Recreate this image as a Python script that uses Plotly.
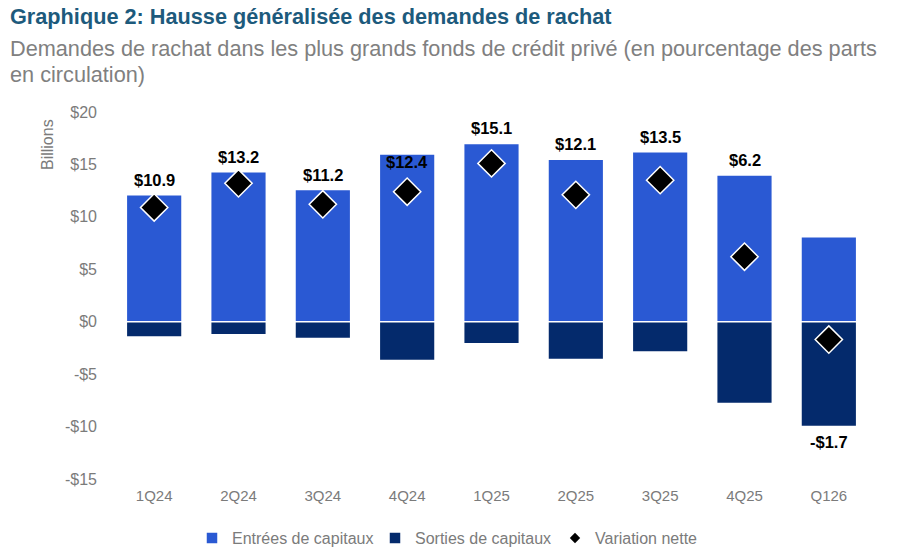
import plotly.graph_objects as go

categories = ["1Q24", "2Q24", "3Q24", "4Q24", "1Q25", "2Q25", "3Q25", "4Q25", "Q126"]
inflows = [12.1, 14.3, 12.6, 16.0, 17.0, 15.5, 16.2, 14.0, 8.1]
outflows = [-1.45, -1.25, -1.6, -3.7, -2.1, -3.6, -2.9, -7.8, -10.0]
net = [10.9, 13.2, 11.2, 12.4, 15.1, 12.1, 13.5, 6.2, -1.7]
net_labels = ["$10.9", "$13.2", "$11.2", "$12.4", "$15.1", "$12.1", "$13.5", "$6.2", "-$1.7"]
tick_vals = [-15, -10, -5, 0, 5, 10, 15, 20]
tick_text = ["-$15", "-$10", "-$5", "$0", "$5", "$10", "$15", "$20"]

C_IN = "#2a59d3"
C_OUT = "#042a6c"
GRAY = "#7b7b7b"
FONT = "Liberation Sans, Arial, sans-serif"

PL, PR, PT, PB = 112, 33, 112, 81
PW = 904 - PL - PR


def px_x(p):
    return (p - PL) / PW


fig = go.Figure()
fig.add_trace(go.Bar(x=categories, y=inflows, name="Entrées de capitaux", legend="legend",
                     marker=dict(color=C_IN, line=dict(color="white", width=1.5))))
fig.add_trace(go.Bar(x=categories, y=outflows, name="Sorties de capitaux", legend="legend2",
                     marker=dict(color=C_OUT, line=dict(color="white", width=1.5))))
fig.add_trace(go.Scatter(x=categories, y=net, name="Variation nette", mode="markers",
                         showlegend=False,
                         marker=dict(symbol="diamond", size=21, color="black",
                                     line=dict(color="white", width=1.5))))
# legend entry with a small diamond like the reference
fig.add_trace(go.Scatter(x=[None], y=[None], name="Variation nette", mode="markers",
                         legend="legend3", marker=dict(symbol="diamond", size=8, color="black")))

special_shift = {"4Q24": -8}
for c, v, lab, i_top, o_bot in zip(categories, net, net_labels, inflows, outflows):
    if v >= 0:
        fig.add_annotation(x=c, y=i_top, text=lab, showarrow=False, yanchor="middle",
                           yshift=special_shift.get(c, 15),
                           font=dict(family=FONT, size=16.5, color="black", weight="bold"))
    else:
        fig.add_annotation(x=c, y=o_bot, text=lab, showarrow=False, yanchor="middle",
                           yshift=-15,
                           font=dict(family=FONT, size=16.5, color="black", weight="bold"))

fig.add_annotation(xref="paper", yref="paper", x=px_x(8), y=1.259, xanchor="left", yanchor="middle",
                   text="Graphique 2: Hausse généralisée des demandes de rachat", showarrow=False,
                   font=dict(family=FONT, size=21.7, color="#1d5a7c", weight="bold"))
fig.add_annotation(xref="paper", yref="paper", x=px_x(8), y=1.174, xanchor="left", yanchor="middle",
                   text="Demandes de rachat dans les plus grands fonds de crédit privé (en pourcentage des parts",
                   showarrow=False, font=dict(family=FONT, size=21.7, color="#808080"))
fig.add_annotation(xref="paper", yref="paper", x=px_x(8), y=1.101, xanchor="left", yanchor="middle",
                   text="en circulation)", showarrow=False, font=dict(family=FONT, size=21.7, color="#808080"))
fig.add_annotation(xref="paper", yref="paper", x=px_x(47), y=0.91, xanchor="center", yanchor="middle",
                   text="Billions", textangle=-90, showarrow=False,
                   font=dict(family=FONT, size=16, color=GRAY))

leg_common = dict(orientation="h", xanchor="left", y=-0.161, yanchor="middle",
                  font=dict(family=FONT, size=16, color=GRAY), itemwidth=30,
                  bgcolor="rgba(0,0,0,0)")

fig.update_layout(
    width=904, height=560,
    margin=dict(l=PL, r=PR, t=PT, b=PB, autoexpand=False),
    barmode="relative", bargap=0.34,
    plot_bgcolor="white", paper_bgcolor="white",
    font=dict(family=FONT, size=15, color=GRAY),
    showlegend=True,
    legend=dict(x=px_x(192), **leg_common),
    legend2=dict(x=px_x(375), **leg_common),
    legend3=dict(x=px_x(555), **leg_common),
    xaxis=dict(range=[-0.5, len(categories) - 0.5], showgrid=False, zeroline=False,
               showline=False, ticks="", automargin=False,
               ticklabelstandoff=6, tickfont=dict(family=FONT, size=15, color=GRAY)),
    yaxis=dict(range=[-15, 20], tickvals=tick_vals, ticktext=tick_text, showgrid=False,
               zeroline=False, showline=False, ticks="", ticklabelstandoff=14, automargin=False,
               tickfont=dict(family=FONT, size=16, color=GRAY)),
)

fig.write_html("out.html")
